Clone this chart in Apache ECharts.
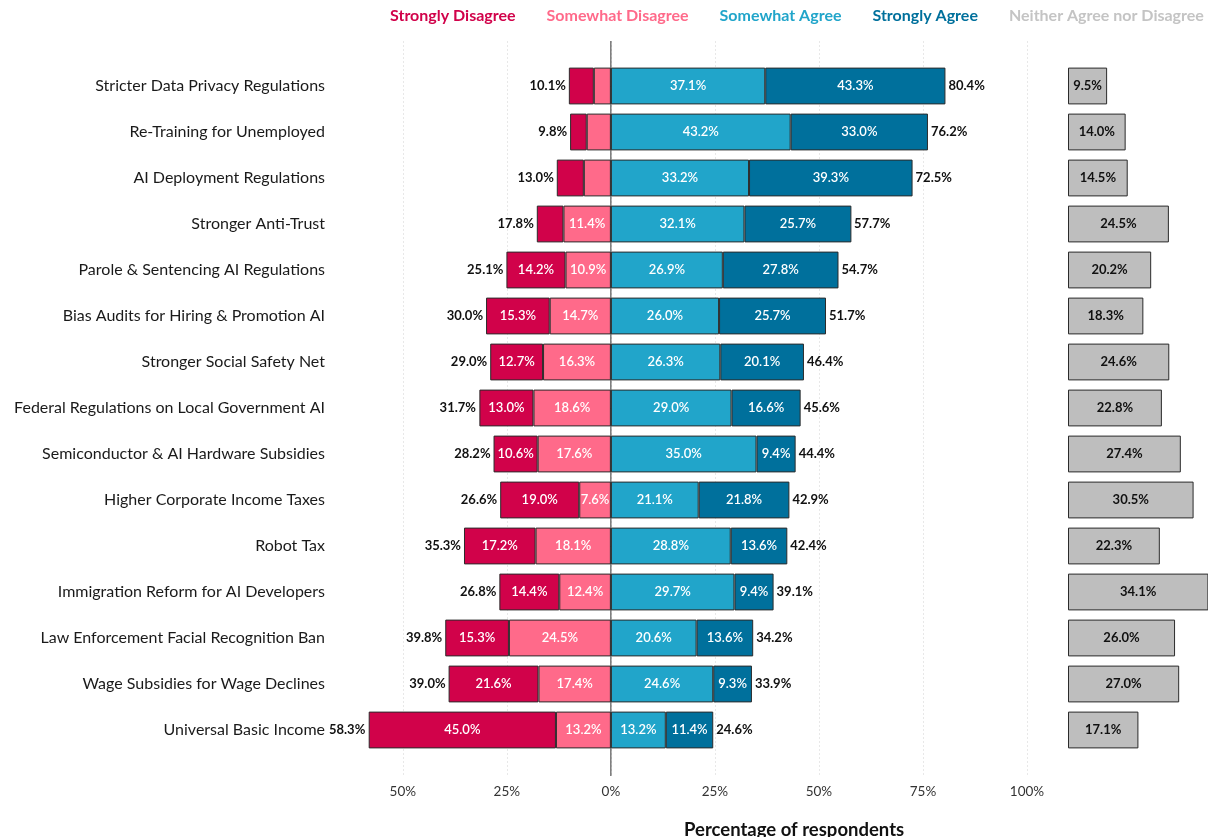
<!DOCTYPE html>
<html><head><meta charset="utf-8">
<script src="https://cdn.jsdelivr.net/npm/echarts@6/dist/echarts.min.js"></script>
<style>html,body{margin:0;padding:0;background:#fff}#c{width:1208px;height:837px}</style>
</head><body><div id="c"></div>
<script>
const categories = ['Stricter Data Privacy Regulations','Re-Training for Unemployed','AI Deployment Regulations','Stronger Anti-Trust','Parole & Sentencing AI Regulations','Bias Audits for Hiring & Promotion AI','Stronger Social Safety Net','Federal Regulations on Local Government AI','Semiconductor & AI Hardware Subsidies','Higher Corporate Income Taxes','Robot Tax','Immigration Reform for AI Developers','Law Enforcement Facial Recognition Ban','Wage Subsidies for Wage Declines','Universal Basic Income'];
const stronglyDisagree = [6.0, 4.0, 6.5, 6.4, 14.2, 15.3, 12.7, 13.0, 10.6, 19.0, 17.2, 14.4, 15.3, 21.6, 45.0];
const somewhatDisagree = [4.1, 5.8, 6.5, 11.4, 10.9, 14.7, 16.3, 18.6, 17.6, 7.6, 18.1, 12.4, 24.5, 17.4, 13.2];
const somewhatAgree = [37.1, 43.2, 33.2, 32.1, 26.9, 26.0, 26.3, 29.0, 35.0, 21.1, 28.8, 29.7, 20.6, 24.6, 13.2];
const stronglyAgree = [43.3, 33.0, 39.3, 25.7, 27.8, 25.7, 20.1, 16.6, 9.4, 21.8, 13.6, 9.4, 13.6, 9.3, 11.4];
const disagreeTotal = [10.1, 9.8, 13.0, 17.8, 25.1, 30.0, 29.0, 31.7, 28.2, 26.6, 35.3, 26.8, 39.8, 39.0, 58.3];
const agreeTotal = [80.4, 76.2, 72.5, 57.7, 54.7, 51.7, 46.4, 45.6, 44.4, 42.9, 42.4, 39.1, 34.2, 33.9, 24.6];
const neither = [9.5, 14.0, 14.5, 24.5, 20.2, 18.3, 24.6, 22.8, 27.4, 30.5, 22.3, 34.1, 26.0, 27.0, 17.1];
const xTicks = [-50, -25, 0, 25, 50, 75, 100];
const legendNames = ['Strongly Disagree','Somewhat Disagree','Somewhat Agree','Strongly Agree','Neither Agree nor Disagree'];

const C = {sd:'#d1024a', sw:'#ff6a8a', sa:'#21a5ca', st:'#00709c', ne:'#bebebe', neText:'#c4c4c4'};
const FONT = 'Lato';
const border = {borderColor:'#2b2b2b', borderWidth:1};
const inLabel = {show:true, position:'inside', color:'#fff', fontSize:13, fontWeight:600, fontFamily:FONT,
  formatter: p => Math.abs(p.value) >= 7 ? Math.abs(p.value).toFixed(1) + '%' : ''};
const XMIN = -67.5, XMAX = 100;
const mainGrid = {left:330, width:697};

const chart = echarts.init(document.getElementById('c'), null, {renderer:'canvas'});
chart.setOption({
  backgroundColor:'#fff',
  animation:false,
  textStyle:{fontFamily:FONT},
  legend:{
    left:384, top:8, width:900, padding:0, itemGap:25, itemWidth:0, itemHeight:0, selectedMode:false,
    textStyle:{fontSize:16, fontWeight:'bold', fontFamily:FONT},
    data: legendNames.map((n,i)=>({name:n, icon:'rect', textStyle:{color:[C.sd,C.sw,C.sa,C.st,C.neText][i]}}))
  },
  title:{text:'Percentage of respondents', left:679, top:816,
    textStyle:{fontSize:18.5, fontWeight:'bold', color:'#111', fontFamily:FONT}},
  grid:[
    {left:mainGrid.left, width:mainGrid.width, top:63, height:690},
    {left:1068, width:141, top:63, height:690},
    {left:mainGrid.left, width:mainGrid.width, top:41, height:735}
  ],
  xAxis:[
    {gridIndex:0, type:'value', min:XMIN, max:XMAX, show:false},
    {gridIndex:1, type:'value', min:0, max:34, show:false},
    {gridIndex:2, type:'value', min:XMIN, max:XMAX,
      axisLine:{show:false},
      axisTick:{show:false, customValues:xTicks},
      axisLabel:{customValues:xTicks, formatter:v=>Math.abs(v)+'%', color:'#333', fontSize:13.5, fontFamily:FONT, margin:9},
      splitLine:{show:true, lineStyle:{color:'#e8e8e8', type:[2,2], width:1}}}
  ],
  yAxis:[
    {gridIndex:0, type:'category', data:categories, inverse:true,
      axisLine:{show:false},
      axisTick:{show:true, alignWithLabel:true, length:3, lineStyle:{color:'#555'}},
      axisLabel:{color:'#1a1a1a', fontSize:16, fontFamily:FONT, margin:5},
      splitLine:{show:false}},
    {gridIndex:1, type:'category', data:categories, inverse:true, show:false},
    {gridIndex:2, type:'value', min:0, max:1, show:false}
  ],
  series:[
    {name:'Somewhat Disagree', type:'bar', stack:'a', xAxisIndex:0, yAxisIndex:0, barWidth:'80%',
      data:somewhatDisagree.map(v=>-v), itemStyle:Object.assign({color:C.sw}, border), label:inLabel},
    {name:'Strongly Disagree', type:'bar', stack:'a', xAxisIndex:0, yAxisIndex:0, barWidth:'80%',
      data:stronglyDisagree.map(v=>-v), itemStyle:Object.assign({color:C.sd}, border), label:inLabel},
    {name:'Somewhat Agree', type:'bar', stack:'a', xAxisIndex:0, yAxisIndex:0, barWidth:'80%',
      data:somewhatAgree, itemStyle:Object.assign({color:C.sa}, border), label:inLabel},
    {name:'Strongly Agree', type:'bar', stack:'a', xAxisIndex:0, yAxisIndex:0, barWidth:'80%',
      data:stronglyAgree, itemStyle:Object.assign({color:C.st}, border), label:inLabel},
    {name:'dtot', type:'bar', stack:'tot', xAxisIndex:0, yAxisIndex:0, barWidth:'80%', barGap:'-100%', silent:true,
      data:disagreeTotal.map(v=>-v), itemStyle:{color:'rgba(0,0,0,0)'},
      label:{show:true, position:'left', distance:3, color:'#111', fontSize:13, fontWeight:'bold', fontFamily:FONT,
        formatter:p=>Math.abs(p.value).toFixed(1)+'%'}},
    {name:'atot', type:'bar', stack:'tot', xAxisIndex:0, yAxisIndex:0, barWidth:'80%', barGap:'-100%', silent:true,
      data:agreeTotal, itemStyle:{color:'rgba(0,0,0,0)'},
      label:{show:true, position:'right', distance:3, color:'#111', fontSize:13, fontWeight:'bold', fontFamily:FONT,
        formatter:p=>p.value.toFixed(1)+'%'}},
    {name:'Neither Agree nor Disagree', type:'bar', xAxisIndex:1, yAxisIndex:1, barWidth:'80%',
      data:neither, itemStyle:Object.assign({color:C.ne}, border),
      label:{show:true, position:'inside', color:'#111', fontSize:13, fontWeight:'bold', fontFamily:FONT,
        formatter:p=>p.value.toFixed(1)+'%'}},
    {name:'zero', type:'line', xAxisIndex:2, yAxisIndex:2, data:[[0,0],[0,1]], symbol:'none', silent:true,
      lineStyle:{color:'#333', width:1}, z:5}
  ]
});
</script></body></html>
